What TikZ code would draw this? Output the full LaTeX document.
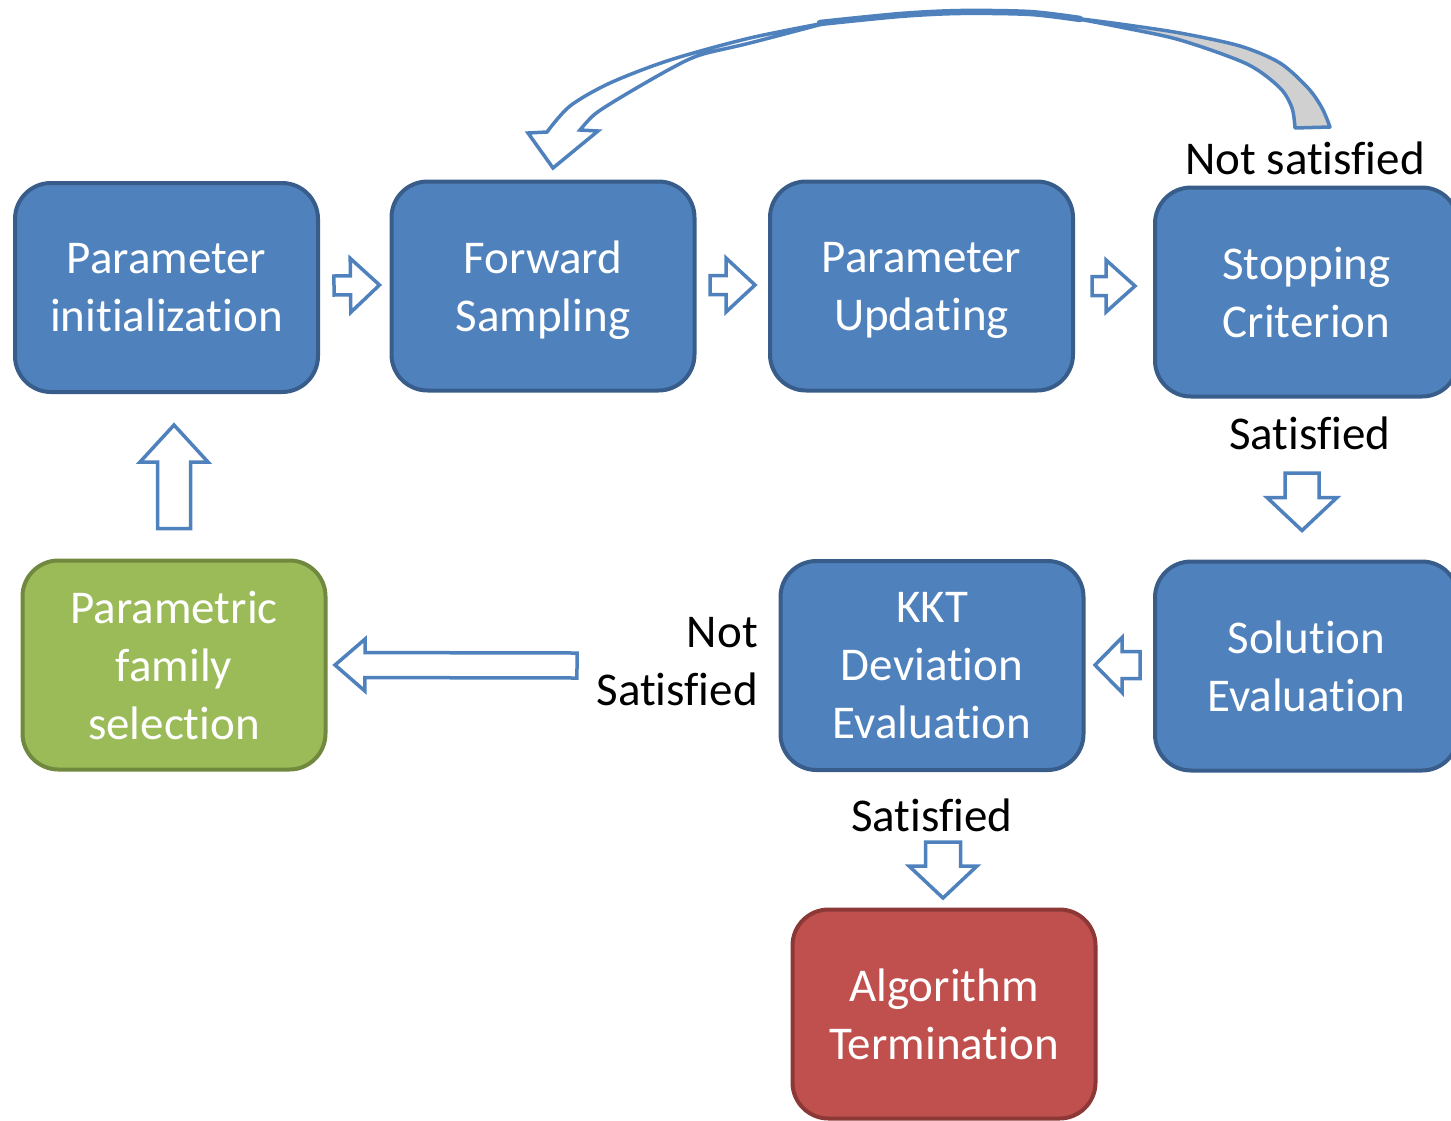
\documentclass[tikz,border=0pt]{standalone}
\usepackage{fontspec}
\setmainfont{Carlito}[Ligatures=CommonOff]
\usetikzlibrary{calc}

\definecolor{boxblue}{HTML}{4F81BD}
\definecolor{boxblueline}{HTML}{385D8A}
\definecolor{boxgreen}{HTML}{9BBB59}
\definecolor{boxgreenline}{HTML}{71893F}
\definecolor{boxred}{HTML}{C0504D}
\definecolor{boxredline}{HTML}{8C3836}
\definecolor{arrowline}{HTML}{4F81BD}
\definecolor{backgray}{HTML}{D0D0D0}

\tikzset{
  flowbox/.style={draw=boxblueline, fill=boxblue, line width=4pt, rounded corners=36pt,
    minimum width=303pt, minimum height=209pt, text=white, align=center,
    font=\fontsize{47}{58}\selectfont, inner sep=0pt, text depth=0pt},
  greenbox/.style={flowbox, draw=boxgreenline, fill=boxgreen},
  redbox/.style={flowbox, draw=boxredline, fill=boxred},
  lbl/.style={font=\fontsize{47}{58}\selectfont, text=black, inner sep=0pt},
  hollow/.style={draw=arrowline, fill=white, line width=3.5pt, line join=miter},
}

% hollow block arrow: tail, tip, shaft half width, head half width, head length
\newcommand\blockarrow[5]{%
  \coordinate (ba-h) at ($(#2)!#5!(#1)$);
  \draw[hollow] ($(#1)!#3!90:(#2)$) -- ($(ba-h)!#3!-90:(#1)$) -- ($(ba-h)!#4!-90:(#1)$)
    -- (#2) -- ($(ba-h)!#4!90:(#1)$) -- ($(ba-h)!#3!90:(#1)$) -- ($(#1)!#3!-90:(#2)$) -- cycle;}

\begin{document}
\begin{tikzpicture}[x=1pt, y=-1pt]
\useasboundingbox (0,0) rectangle (1451,1120);

% process boxes
\node[flowbox]  (pinit) at (166.5,287.5) {Parameter\\initialization};
\node[flowbox]  (fwd)   at (543,286)     {Forward\\Sampling};
\node[flowbox]  (pupd)  at (921.5,286)   {Parameter\\Updating};
\node[flowbox]  (stop)  at (1306.5,292)  {Stopping\\Criterion};
\node[flowbox]  (sol)   at (1306.5,666)  {Solution\\Evaluation};
\node[flowbox]  (kkt)   at (932,665.5)   {KKT\\Deviation\\Evaluation};
\node[greenbox] (pfam)  at (174,665)     {Parametric\\family\\selection};
\node[redbox]   (algo)  at (944,1014)    {Algorithm\\Termination};

% labels
\node[lbl] (lnotsat) at (1305,158) {Not satisfied};
\node[lbl] (lsat1)   at (1310,433) {Satisfied};
\node[lbl, align=right, anchor=east] (lnotsat2) at (758,662) {Not\\Satisfied};
\node[lbl] (lsat2)   at (932,815) {Satisfied};

% straight block arrows
\coordinate (a1t) at ($(pinit.east)+(14,-2)$);
\coordinate (a1h) at ($(fwd.west)+(-10,-1)$);
\blockarrow{a1t}{a1h}{9.5pt}{27pt}{29pt}

\coordinate (a2t) at ($(fwd.east)+(13.5,-1)$);
\coordinate (a2h) at ($(pupd.west)+(-13,-1)$);
\blockarrow{a2t}{a2h}{9.5pt}{27pt}{29pt}

\coordinate (a3t) at ($(pupd.east)+(17,0)$);
\coordinate (a3h) at ($(stop.west)+(-18,-6)$);
\blockarrow{a3t}{a3h}{9.5pt}{26pt}{29pt}

\coordinate (a4t) at ($(stop.south)+(-4.5,74.5)$);
\coordinate (a4h) at ($(sol.north)+(-4.5,-29)$);
\blockarrow{a4t}{a4h}{17pt}{35pt}{33pt}

\coordinate (a5t) at ($(sol.west)+(-13,-1)$);
\coordinate (a5h) at ($(kkt.east)+(9.5,-0.5)$);
\blockarrow{a5t}{a5h}{13.5pt}{27.5pt}{27pt}

\coordinate (a6t) at ($(kkt.west)+(-201.5,0)$);
\coordinate (a6h) at ($(pfam.east)+(7.5,0)$);
\blockarrow{a6t}{a6h}{12.5pt}{26pt}{30pt}

\coordinate (a7t) at ($(pfam.north)+(0,-30)$);
\coordinate (a7h) at ($(pinit.south)+(7.5,31)$);
\blockarrow{a7t}{a7h}{16.5pt}{34pt}{37pt}

\coordinate (a8t) at ($(kkt.south)+(11,70)$);
\coordinate (a8h) at ($(algo.north)+(-1,-9.5)$);
\blockarrow{a8t}{a8h}{17.5pt}{34pt}{32pt}

% curved return arrow: back face (grey) near the tail
\filldraw[draw=arrowline, fill=backgray, line width=3.5pt, line join=round]
  plot[smooth] coordinates {(1073,18) (1120,24) (1180,33) (1240,46) (1280,63) (1308,88) (1322,108) (1330,127)}
  -- (1295,128)
  -- plot[smooth] coordinates {(1295,128) (1292,108) (1280,88) (1247,64) (1180,40) (1120,27) (1073,18)}
  -- cycle;
% twisted middle of the band
\draw[draw=arrowline, line width=6.5pt, line cap=round]
  plot[smooth] coordinates {(820,23) (900,15) (960,12) (1030,13) (1080,19)};
% front face with the arrow head
\filldraw[draw=arrowline, fill=white, line width=3.5pt, line join=miter]
  (598,131) -- (553,168) -- (528,133) -- (547,132)
  -- plot[smooth] coordinates {(547,132) (570,106) (610,83) (670,60) (750,38) (830,22)}
  -- plot[smooth] coordinates {(830,22) (750,43) (700,55) (670,69) (623,96) (595,114) (580,130)}
  -- cycle;
\end{tikzpicture}
\end{document}
